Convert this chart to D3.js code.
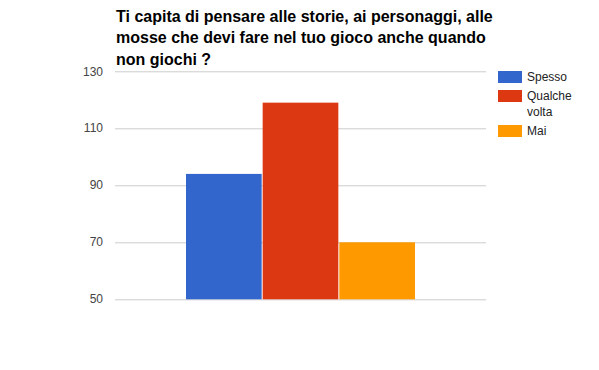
<!DOCTYPE html>
<html>
<meta charset="utf-8">
<style>
body { margin: 0; background: #fff; }
text { font-family: Arial, "Liberation Sans", sans-serif; }
.grid line { stroke: #ccc; }
.grid path { display: none; }
</style>
<svg width="599" height="370"></svg>
<script src="https://d3js.org/d3.v7.min.js"></script>
<script>
var titleLines = ["Ti capita di pensare alle storie, ai personaggi, alle",
                  "mosse che devi fare nel tuo gioco anche quando",
                  "non giochi ?"];
var series = ["Spesso", "Qualche volta", "Mai"];
var values = [94, 119, 70];
var colors = ["#3366cc", "#dc3912", "#ff9900"];
var ticks = [50, 70, 90, 110, 130];

var svg = d3.select("svg"),
    margin = {top: 71.3, left: 115, right: 113},
    width = 599 - margin.left - margin.right,
    height = 228;

svg.append("rect").attr("width", 599).attr("height", 370).attr("fill", "#fff");

svg.append("g").selectAll("text")
  .data(titleLines)
  .enter().append("text")
    .attr("x", 116)
    .attr("y", function(d, i) { return 21.5 + i * 21.8; })
    .attr("font-size", "16px")
    .attr("font-weight", "bold")
    .attr("fill", "#000")
    .text(function(d) { return d; });

var y = d3.scaleLinear().domain([50, 130]).range([height, 0]);
var x = d3.scaleBand().domain(series).range([71, 300]).paddingInner(0.013);

var g = svg.append("g").attr("transform", "translate(" + margin.left + "," + margin.top + ")");

g.append("g").attr("class", "grid")
  .call(d3.axisLeft(y).tickValues(ticks).tickSize(-width).tickFormat(""))
  .selectAll("line").attr("x1", 0).attr("x2", width);

g.selectAll(".ylab")
  .data(ticks)
  .enter().append("text")
    .attr("class", "ylab")
    .attr("x", -12)
    .attr("y", function(d) { return y(d); })
    .attr("dy", "0.35em")
    .attr("text-anchor", "end")
    .attr("font-size", "12px")
    .attr("fill", "#444")
    .text(function(d) { return d; });

g.selectAll(".bar")
  .data(values)
  .enter().append("rect")
    .attr("class", "bar")
    .attr("x", function(d, i) { return x(series[i]); })
    .attr("y", function(d) { return y(d); })
    .attr("width", x.bandwidth())
    .attr("height", function(d) { return height - y(d); })
    .attr("fill", function(d, i) { return colors[i]; });

// legend
var legY = [71, 90, 125];
var leg = svg.append("g").selectAll("g")
  .data(series)
  .enter().append("g")
    .attr("transform", function(d, i) { return "translate(498," + legY[i] + ")"; });

leg.append("rect")
  .attr("width", 24).attr("height", 12)
  .attr("fill", function(d, i) { return colors[i]; });

leg.append("text")
  .attr("x", 29)
  .attr("y", 10)
  .attr("font-size", "12px")
  .attr("fill", "#222")
  .each(function(d) {
    var words = d.split(" ");
    var t = d3.select(this);
    words.forEach(function(w, k) {
      t.append("tspan").attr("x", 29).attr("dy", k === 0 ? 0 : 16).text(w);
    });
  });
</script>
</html>
